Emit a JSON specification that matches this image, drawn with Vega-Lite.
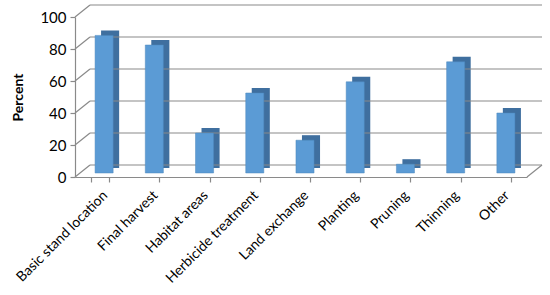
{
  "$schema": "https://vega.github.io/schema/vega-lite/v6.json",
  "width": 452,
  "height": 160,
  "autosize": "none",
  "padding": {"left": 75, "top": 17, "right": 23, "bottom": 118},
  "background": "white",
  "config": {"view": {"stroke": null}, "font": "Lato", "axis": {"labelOverlap": false}},
  "datasets": {
    "bars": [
      {"category": "Basic stand location", "percent": 86},
      {"category": "Final harvest", "percent": 80},
      {"category": "Habitat areas", "percent": 25},
      {"category": "Herbicide treatment", "percent": 50},
      {"category": "Land exchange", "percent": 20.5},
      {"category": "Planting", "percent": 57},
      {"category": "Pruning", "percent": 5.5},
      {"category": "Thinning", "percent": 69.5},
      {"category": "Other", "percent": 37.5}
    ],
    "grid": [{"v": 0}, {"v": 20}, {"v": 40}, {"v": 60}, {"v": 80}, {"v": 100}]
  },
  "resolve": {"scale": {"x": "independent"}},
  "layer": [
    {
      "data": {"name": "bars"},
      "mark": {"type": "bar", "color": "#3f6f9f", "xOffset": 10, "x2Offset": 10, "yOffset": -9, "y2Offset": -9},
      "encoding": {
        "x": {"field": "category", "type": "nominal", "sort": null, "scale": {"paddingInner": 0.64, "paddingOuter": 0.32}, "axis": null},
        "y": {
          "field": "percent", "type": "quantitative",
          "scale": {"domain": [0, 100], "nice": false},
          "axis": {
            "title": "Percent", "titleFontWeight": "bold", "titleFontSize": 14, "titleFont": "Lato",
            "titlePadding": 14, "titleColor": "#000",
            "values": [0, 20, 40, 60, 80, 100], "tickCount": 6, "grid": false, "labelOverlap": false, "labelBound": false, "labelFlush": false,
            "labelFontSize": 15, "labelColor": "#000", "labelFont": "Lato", "labelPadding": 4,
            "tickSize": 5, "tickColor": "#8a8a8a", "domainColor": "#8a8a8a", "domainWidth": 1.2, "tickWidth": 1.2
          }
        }
      }
    },
    {
      "data": {"name": "grid"},
      "mark": {"type": "rule", "color": "#8a8a8a", "strokeWidth": 1.2, "xOffset": 15, "x2Offset": 15, "yOffset": -12},
      "encoding": {
        "x": {"datum": 0, "type": "quantitative", "scale": {"domain": [0, 1]}, "axis": null},
        "x2": {"datum": 1},
        "y": {"field": "v", "type": "quantitative"}
      }
    },
    {
      "data": {"name": "grid"},
      "mark": {"type": "rule", "color": "#8a8a8a", "strokeWidth": 1.2, "x2Offset": 15, "y2Offset": -12},
      "encoding": {
        "x": {"datum": 0, "type": "quantitative", "scale": {"domain": [0, 1]}, "axis": null},
        "x2": {"datum": 0},
        "y": {"field": "v", "type": "quantitative"},
        "y2": {"field": "v"}
      }
    },
    {
      "data": {"name": "grid"},
      "transform": [{"filter": "datum.v == 0"}],
      "mark": {"type": "rule", "color": "#8a8a8a", "strokeWidth": 1.2, "x2Offset": 15, "y2Offset": -12},
      "encoding": {
        "x": {"datum": 1, "type": "quantitative", "scale": {"domain": [0, 1]}, "axis": null},
        "x2": {"datum": 1},
        "y": {"field": "v", "type": "quantitative"},
        "y2": {"field": "v"}
      }
    },
    {
      "data": {"name": "bars"},
      "mark": {"type": "bar", "color": "#5b9bd5", "stroke": "#4f88bd", "strokeWidth": 0.5, "xOffset": 4, "x2Offset": 4, "yOffset": -4, "y2Offset": -4},
      "encoding": {
        "x": {
          "field": "category", "type": "nominal", "sort": null,
          "scale": {"paddingInner": 0.64, "paddingOuter": 0.32},
          "axis": {
            "title": null, "labelAngle": -45, "labelFontSize": 14, "labelColor": "#000",
            "labelPadding": 6, "tickBand": "extent", "tickSize": 5, "tickColor": "#8a8a8a",
            "domainColor": "#8a8a8a", "domainWidth": 1.2, "tickWidth": 1.2, "labelFont": "Lato"
          }
        },
        "y": {"field": "percent", "type": "quantitative"}
      }
    }
  ]
}
